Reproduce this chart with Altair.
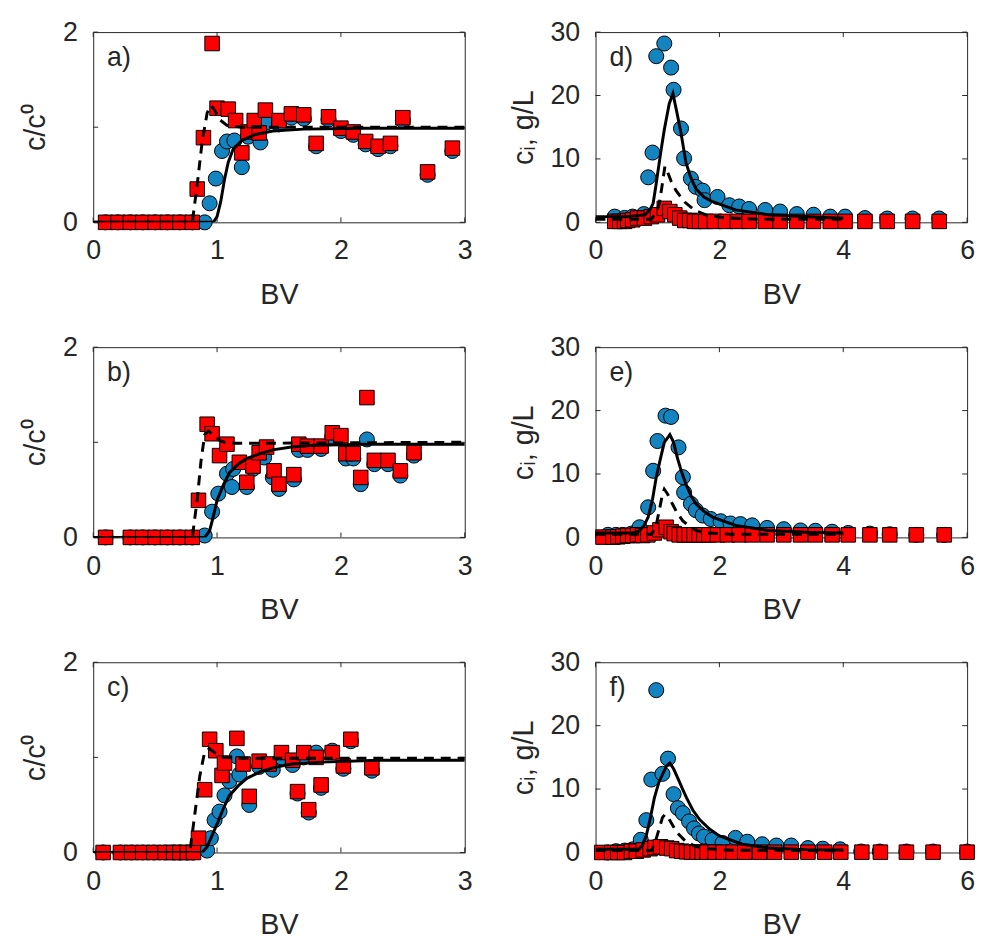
import altair as alt
import pandas as pd

# ---------------- data ----------------
# Panel a
A_BLUE_X = [0.1, 0.2, 0.3, 0.4, 0.5, 0.6, 0.7, 0.8, 0.9, 0.94, 0.99, 1.04, 1.08, 1.14, 1.2, 1.25, 1.35, 1.4, 1.5, 1.6, 1.7, 1.8, 1.9, 2.0, 2.1, 2.2, 2.3, 2.4, 2.5, 2.7, 2.9]
A_BLUE_Y = [0, 0, 0, 0, 0, 0, 0, 0, 0.0, 0.2, 0.46, 0.75, 0.85, 0.86, 0.58, 0.9, 0.84, 1.05, 1.03, 1.1, 1.09, 0.8, 1.08, 0.96, 0.92, 0.82, 0.77, 0.8, 1.07, 0.5, 0.75]
A_RED_X = [0.1, 0.2, 0.3, 0.4, 0.5, 0.6, 0.7, 0.8, 0.84, 0.89, 0.96, 1.0, 1.09, 1.15, 1.2, 1.25, 1.3, 1.34, 1.39, 1.5, 1.6, 1.7, 1.8, 1.9, 2.0, 2.1, 2.2, 2.3, 2.4, 2.5, 2.7, 2.9]
A_RED_Y = [0, 0, 0, 0, 0, 0, 0, 0, 0.35, 0.89, 1.88, 1.2, 1.19, 1.07, 0.73, 0.95, 1.07, 0.94, 1.18, 1.07, 1.14, 1.13, 0.83, 1.11, 0.99, 0.95, 0.85, 0.8, 0.83, 1.1, 0.53, 0.78]
A_SOLID_X = [0, 0.97, 1.0, 1.03, 1.06, 1.09, 1.13, 1.2, 1.3, 1.45, 1.7, 2.2, 3.0]
A_SOLID_Y = [0, 0, 0.06, 0.22, 0.45, 0.63, 0.77, 0.86, 0.92, 0.96, 0.98, 0.99, 0.99]
A_DASH_X = [0, 0.8, 0.84, 0.88, 0.92, 0.95, 0.98, 1.02, 1.08, 1.2, 3.0]
A_DASH_Y = [0, 0, 0.4, 0.85, 1.15, 1.23, 1.18, 1.08, 1.02, 1.0, 1.0]

# Panel b
B_BLUE_X = [0.1, 0.3, 0.4, 0.5, 0.6, 0.7, 0.8, 0.9, 0.96, 1.01, 1.08, 1.12, 1.13, 1.24, 1.29, 1.38, 1.45, 1.5, 1.62, 1.66, 1.73, 1.84, 1.93, 2.04, 2.1, 2.16, 2.21, 2.27, 2.38, 2.48, 2.59]
B_BLUE_Y = [0, 0, 0, 0, 0, 0, 0, 0.02, 0.27, 0.46, 0.67, 0.53, 0.72, 0.53, 0.72, 0.84, 0.63, 0.51, 0.61, 0.92, 0.92, 0.93, 1.06, 0.83, 0.83, 0.56, 1.03, 0.77, 0.77, 0.65, 0.86]
B_RED_X = [0.1, 0.3, 0.4, 0.5, 0.6, 0.7, 0.8, 0.85, 0.92, 0.96, 1.02, 1.08, 1.18, 1.24, 1.29, 1.34, 1.4, 1.46, 1.5, 1.62, 1.66, 1.73, 1.84, 1.93, 2.0, 2.04, 2.1, 2.16, 2.21, 2.27, 2.38, 2.48, 2.59]
B_RED_Y = [0, 0, 0, 0, 0, 0, 0, 0.39, 1.19, 1.09, 0.86, 0.98, 0.79, 0.58, 0.75, 0.89, 0.95, 0.7, 0.56, 0.66, 0.98, 0.96, 0.96, 1.1, 1.07, 0.88, 0.88, 0.63, 1.47, 0.81, 0.81, 0.7, 0.89]
B_SOLID_X = [0, 0.9, 0.94, 0.97, 1.0, 1.05, 1.1, 1.17, 1.24, 1.35, 1.45, 1.6, 1.8, 2.2, 3.0]
B_SOLID_Y = [0, 0, 0.07, 0.22, 0.39, 0.55, 0.68, 0.77, 0.83, 0.88, 0.92, 0.95, 0.97, 0.98, 0.98]
B_DASH_X = [0, 0.8, 0.84, 0.87, 0.9, 0.93, 0.97, 1.02, 1.08, 1.3, 3.0]
B_DASH_Y = [0, 0, 0.4, 0.8, 1.08, 1.12, 1.08, 1.02, 0.99, 0.99, 1.0]

# Panel c
C_BLUE_X = [0.08, 0.22, 0.31, 0.4, 0.49, 0.58, 0.65, 0.7, 0.76, 0.81, 0.92, 0.95, 0.98, 1.02, 1.06, 1.1, 1.16, 1.18, 1.26, 1.34, 1.45, 1.52, 1.61, 1.65, 1.7, 1.74, 1.8, 1.84, 1.93, 2.02, 2.08, 2.25]
C_BLUE_Y = [0, 0, 0, 0, 0, 0, 0, 0, 0, 0, 0.02, 0.15, 0.34, 0.43, 0.6, 0.75, 1.01, 0.82, 0.5, 0.9, 0.87, 1.0, 0.92, 0.62, 1.0, 0.42, 1.05, 0.68, 1.07, 0.88, 1.17, 0.86]
C_RED_X = [0.08, 0.22, 0.31, 0.4, 0.49, 0.58, 0.65, 0.7, 0.76, 0.81, 0.85, 0.9, 0.94, 0.99, 1.04, 1.06, 1.16, 1.21, 1.26, 1.34, 1.42, 1.52, 1.61, 1.65, 1.7, 1.74, 1.8, 1.84, 1.93, 2.02, 2.08, 2.25]
C_RED_Y = [0, 0, 0, 0, 0, 0, 0, 0, 0, 0, 0.15, 0.66, 1.19, 1.07, 0.81, 0.94, 1.2, 0.93, 0.59, 0.96, 0.93, 1.05, 0.97, 0.64, 1.05, 0.45, 1.0, 0.71, 1.05, 0.91, 1.19, 0.89]
C_SOLID_X = [0, 0.88, 0.92, 0.96, 1.0, 1.05, 1.1, 1.17, 1.24, 1.35, 1.45, 1.6, 1.85, 2.3, 3.0]
C_SOLID_Y = [0, 0, 0.06, 0.18, 0.3, 0.46, 0.6, 0.7, 0.78, 0.85, 0.89, 0.93, 0.95, 0.97, 0.97]
C_DASH_X = [0, 0.78, 0.82, 0.86, 0.9, 0.94, 0.98, 1.05, 1.2, 3.0]
C_DASH_Y = [0, 0, 0.4, 0.8, 1.06, 1.09, 1.05, 1.0, 0.99, 0.99]

# Panel d
D_BLUE_X = [0.31, 0.47, 0.6, 0.78, 0.85, 0.92, 0.98, 1.11, 1.22, 1.26, 1.38, 1.43, 1.54, 1.62, 1.73, 1.76, 1.97, 2.16, 2.32, 2.48, 2.74, 2.98, 3.25, 3.52, 3.79, 4.03, 4.35, 4.71, 5.12, 5.55]
D_BLUE_Y = [0.9, 0.7, 0.9, 1.3, 7.1, 11.0, 26.2, 28.2, 24.4, 20.9, 14.8, 10.1, 6.9, 5.6, 5.0, 3.5, 4.0, 2.7, 2.5, 2.1, 1.95, 1.7, 1.3, 1.2, 0.9, 0.9, 0.67, 0.6, 0.6, 0.6]
D_RED_X = [0.31, 0.39, 0.47, 0.52, 0.6, 0.68, 0.79, 0.9, 1.0, 1.11, 1.2, 1.28, 1.36, 1.44, 1.52, 1.6, 1.68, 1.78, 1.92, 2.1, 2.29, 2.48, 2.74, 2.98, 3.25, 3.52, 3.79, 4.03, 4.35, 4.71, 5.12, 5.55]
D_RED_Y = [0.15, 0.15, 0.15, 0.3, 0.4, 0.67, 0.67, 0.9, 1.2, 2.2, 1.7, 1.2, 0.67, 0.3, 0.3, 0.15, 0.15, 0.15, 0.15, 0.15, 0.15, 0.15, 0.15, 0.15, 0.15, 0.15, 0.15, 0.15, 0.15, 0.15, 0.15, 0.15]
D_SOLID_X = [0, 0.5, 0.8, 0.88, 0.93, 0.97, 1.0, 1.06, 1.11, 1.19, 1.25, 1.31, 1.38, 1.46, 1.54, 1.62, 1.75, 1.89, 2.26, 2.79, 3.6, 4.0]
D_SOLID_Y = [0.9, 0.9, 1.2, 2.0, 3.0, 5.5, 7.5, 11.5, 14.6, 18.7, 20.3, 17.5, 14.1, 9.4, 7.0, 5.3, 4.0, 3.25, 1.96, 1.2, 0.8, 0.65]
D_DASH_X = [0, 0.9, 0.98, 1.03, 1.07, 1.12, 1.16, 1.22, 1.3, 1.44, 1.6, 1.8, 2.1, 2.6, 4.0]
D_DASH_Y = [0.5, 0.5, 1.5, 3.0, 5.5, 8.8, 8.0, 6.5, 5.0, 3.2, 1.9, 1.1, 0.7, 0.5, 0.5]

# Panel e
E_BLUE_X = [0.2, 0.33, 0.44, 0.58, 0.71, 0.85, 0.93, 1.0, 1.13, 1.22, 1.34, 1.41, 1.43, 1.54, 1.62, 1.73, 1.86, 2.02, 2.18, 2.34, 2.53, 2.77, 3.04, 3.31, 3.55, 3.82, 4.08, 4.43, 4.75, 5.18, 5.63]
E_BLUE_Y = [0.4, 0.4, 0.4, 0.6, 1.6, 4.75, 10.5, 15.2, 19.2, 19.0, 14.2, 9.5, 7.1, 5.3, 4.3, 3.45, 2.9, 2.55, 2.2, 2.1, 1.9, 1.5, 1.3, 1.1, 1.05, 0.9, 0.7, 0.6, 0.5, 0.4, 0.4]
E_RED_X = [0.12, 0.28, 0.36, 0.44, 0.52, 0.6, 0.68, 0.76, 0.845, 0.95, 1.04, 1.14, 1.22, 1.27, 1.35, 1.43, 1.51, 1.59, 1.67, 1.75, 1.83, 1.97, 2.13, 2.32, 2.53, 2.77, 3.04, 3.31, 3.55, 3.82, 4.08, 4.43, 4.75, 5.18, 5.63]
E_RED_Y = [0.05, 0.05, 0.1, 0.2, 0.3, 0.3, 0.4, 0.3, 0.4, 0.7, 1.2, 1.6, 0.9, 0.6, 0.4, 0.4, 0.4, 0.4, 0.4, 0.4, 0.4, 0.4, 0.4, 0.4, 0.4, 0.4, 0.4, 0.4, 0.4, 0.4, 0.4, 0.4, 0.4, 0.4, 0.4]
E_SOLID_X = [0, 0.6, 0.7, 0.78, 0.85, 0.92, 0.98, 1.05, 1.11, 1.2, 1.26, 1.32, 1.39, 1.46, 1.54, 1.62, 1.75, 1.89, 2.26, 2.79, 3.4, 4.0]
E_SOLID_Y = [0.7, 0.7, 1.0, 1.8, 3.2, 6.0, 9.5, 12.5, 15.0, 16.2, 15.0, 12.6, 10.3, 8.4, 6.6, 5.3, 4.1, 3.2, 1.9, 1.1, 0.8, 0.7]
E_DASH_X = [0, 0.9, 0.97, 1.03, 1.08, 1.11, 1.16, 1.24, 1.32, 1.41, 1.52, 1.62, 1.8, 2.2, 4.0]
E_DASH_Y = [0.5, 0.5, 1.5, 4.3, 6.8, 7.6, 6.9, 5.3, 3.8, 2.6, 1.7, 1.1, 0.7, 0.5, 0.5]

# Panel f
F_BLUE_X = [0.2, 0.33, 0.47, 0.6, 0.73, 0.82, 0.9, 0.98, 1.08, 1.17, 1.26, 1.33, 1.41, 1.51, 1.59, 1.67, 1.75, 1.89, 2.05, 2.26, 2.45, 2.69, 2.92, 3.16, 3.43, 3.67, 3.95, 4.29, 4.59, 5.02, 5.45, 6.0]
F_BLUE_Y = [0.0, 0.2, 0.3, 0.5, 2.0, 5.1, 11.5, 25.6, 12.4, 14.8, 9.2, 7.0, 6.2, 4.9, 3.8, 3.0, 2.5, 2.0, 1.5, 2.3, 1.7, 1.3, 1.1, 1.1, 0.7, 0.6, 0.5, 0.15, 0.15, 0.15, 0.15, 0.15]
F_RED_X = [0.1, 0.26, 0.36, 0.47, 0.58, 0.66, 0.77, 0.88, 0.96, 1.05, 1.15, 1.23, 1.31, 1.39, 1.47, 1.55, 1.64, 1.72, 1.8, 1.93, 2.06, 2.22, 2.41, 2.65, 2.89, 3.16, 3.43, 3.7, 3.96, 4.3, 4.6, 5.02, 5.45, 6.0]
F_RED_Y = [0.0, 0.0, 0.0, 0.0, 0.2, 0.2, 0.4, 0.6, 0.8, 0.9, 0.7, 0.6, 0.3, 0.2, 0.1, 0.05, 0.05, 0.05, 0.05, 0.05, 0.05, 0.05, 0.05, 0.05, 0.05, 0.05, 0.05, 0.05, 0.05, 0.05, 0.05, 0.05, 0.05, 0.05]
F_SOLID_X = [0, 0.7, 0.76, 0.82, 0.88, 0.95, 1.02, 1.09, 1.15, 1.2, 1.26, 1.33, 1.4, 1.47, 1.57, 1.68, 1.84, 2.0, 2.37, 2.8, 3.4, 4.0]
F_SOLID_Y = [0.5, 0.5, 1.2, 2.7, 5.2, 8.6, 11.0, 12.5, 13.7, 14.1, 13.2, 11.7, 10.1, 8.6, 6.7, 5.2, 3.7, 2.6, 1.3, 0.7, 0.45, 0.4]
F_DASH_X = [0, 0.9, 0.96, 1.02, 1.08, 1.12, 1.18, 1.25, 1.33, 1.45, 1.6, 1.8, 2.2, 4.0]
F_DASH_Y = [0.3, 0.3, 1.5, 3.5, 5.5, 6.0, 5.4, 4.2, 3.0, 1.8, 1.0, 0.6, 0.35, 0.3]

PANEL_LABELS = ["a)", "b)", "c)", "d)", "e)", "f)"]
LEFT_XTICKS = [0, 1, 2, 3]
LEFT_YTICKS = [0, 1, 2]
RIGHT_XTICKS = [0, 2, 4, 6]
RIGHT_YTICKS = [0, 10, 20, 30]
X_TITLE = "BV"
LEFT_YTITLE = "c/c⁰"
RIGHT_YTITLE = "cᵢ, g/L"

# ---------------- styling ----------------
W, H = 375, 192
FONT = "Liberation Sans"
TXT = "#262626"
BLUE = "#1384bf"
RED = "#ff0000"
TICK = 5


def frame(xs, ys):
    return pd.DataFrame({"x": xs, "y": ys})


def panel(label, blue, red, solid, dashed, xdom, xticks, ydom, yticks, ytitle):
    xsc = alt.Scale(domain=xdom, nice=False, zero=False)
    ysc = alt.Scale(domain=ydom, nice=False, zero=False)
    xenc = alt.X("x:Q", scale=xsc,
                 axis=alt.Axis(values=xticks, title=X_TITLE, labelFlush=False, format="d"))
    yenc = alt.Y("y:Q", scale=ysc,
                 axis=alt.Axis(values=yticks, title=ytitle, labelFlush=False, format="d"))

    pts_b = alt.Chart(frame(*blue)).mark_point(
        shape="circle", filled=True, fill=BLUE, stroke="black", strokeWidth=1,
        size=230, opacity=1
    ).encode(x=xenc, y=yenc)
    pts_r = alt.Chart(frame(*red)).mark_point(
        shape="square", filled=True, fill=RED, stroke="black", strokeWidth=1,
        size=215, opacity=1
    ).encode(x=xenc, y=yenc)
    ln_s = alt.Chart(frame(*solid)).mark_line(
        color="black", strokeWidth=3, clip=True
    ).encode(x=xenc, y=yenc)
    ln_d = alt.Chart(frame(*dashed)).mark_line(
        color="black", strokeWidth=3, strokeDash=[10, 7], clip=True
    ).encode(x=xenc, y=yenc)

    xt = pd.DataFrame({"x": xticks})
    yt = pd.DataFrame({"y": yticks})
    tick_style = dict(color=TXT, strokeWidth=1)
    t_bot = alt.Chart(xt).mark_rule(**tick_style).encode(
        x=xenc, y=alt.value(H), y2=alt.value(H - TICK))
    t_top = alt.Chart(xt).mark_rule(**tick_style).encode(
        x=xenc, y=alt.value(0), y2=alt.value(TICK))
    t_left = alt.Chart(yt).mark_rule(**tick_style).encode(
        y=yenc, x=alt.value(0), x2=alt.value(TICK))
    t_right = alt.Chart(yt).mark_rule(**tick_style).encode(
        y=yenc, x=alt.value(W), x2=alt.value(W - TICK))

    lab = alt.Chart(pd.DataFrame({"label": [label]})).mark_text(
        align="left", baseline="alphabetic", font=FONT, fontSize=27, color=TXT
    ).encode(x=alt.value(14), y=alt.value(34), text="label:N")

    return alt.layer(t_bot, t_top, t_left, t_right, pts_b, pts_r, ln_s, ln_d, lab).properties(
        width=W, height=H)


pa = panel(PANEL_LABELS[0], (A_BLUE_X, A_BLUE_Y), (A_RED_X, A_RED_Y), (A_SOLID_X, A_SOLID_Y),
           (A_DASH_X, A_DASH_Y), [0, 3], LEFT_XTICKS, [0, 2], LEFT_YTICKS, LEFT_YTITLE)
pb = panel(PANEL_LABELS[1], (B_BLUE_X, B_BLUE_Y), (B_RED_X, B_RED_Y), (B_SOLID_X, B_SOLID_Y),
           (B_DASH_X, B_DASH_Y), [0, 3], LEFT_XTICKS, [0, 2], LEFT_YTICKS, LEFT_YTITLE)
pc = panel(PANEL_LABELS[2], (C_BLUE_X, C_BLUE_Y), (C_RED_X, C_RED_Y), (C_SOLID_X, C_SOLID_Y),
           (C_DASH_X, C_DASH_Y), [0, 3], LEFT_XTICKS, [0, 2], LEFT_YTICKS, LEFT_YTITLE)
pd_ = panel(PANEL_LABELS[3], (D_BLUE_X, D_BLUE_Y), (D_RED_X, D_RED_Y), (D_SOLID_X, D_SOLID_Y),
            (D_DASH_X, D_DASH_Y), [0, 6], RIGHT_XTICKS, [0, 30], RIGHT_YTICKS, RIGHT_YTITLE)
pe = panel(PANEL_LABELS[4], (E_BLUE_X, E_BLUE_Y), (E_RED_X, E_RED_Y), (E_SOLID_X, E_SOLID_Y),
           (E_DASH_X, E_DASH_Y), [0, 6], RIGHT_XTICKS, [0, 30], RIGHT_YTICKS, RIGHT_YTITLE)
pf = panel(PANEL_LABELS[5], (F_BLUE_X, F_BLUE_Y), (F_RED_X, F_RED_Y), (F_SOLID_X, F_SOLID_Y),
           (F_DASH_X, F_DASH_Y), [0, 6], RIGHT_XTICKS, [0, 30], RIGHT_YTICKS, RIGHT_YTITLE)

chart = alt.concat(pa, pd_, pb, pe, pc, pf, columns=2, bounds="flush",
                   spacing={"row": 126, "column": 132}).properties(
    padding={"left": 13, "top": 5, "right": 0, "bottom": -6}
).configure_axis(
    grid=False, ticks=False, domain=False,
    labelFont=FONT, labelFontSize=27, labelColor=TXT, labelPadding=16,
    titleFont=FONT, titleFontSize=29, titleColor=TXT, titleFontWeight="normal"
).configure_axisX(
    titlePadding=17
).configure_axisY(
    titlePadding=12
).configure_view(stroke=TXT, strokeWidth=1)

chart.save("out.html", embed_options={"renderer": "svg", "actions": False})
